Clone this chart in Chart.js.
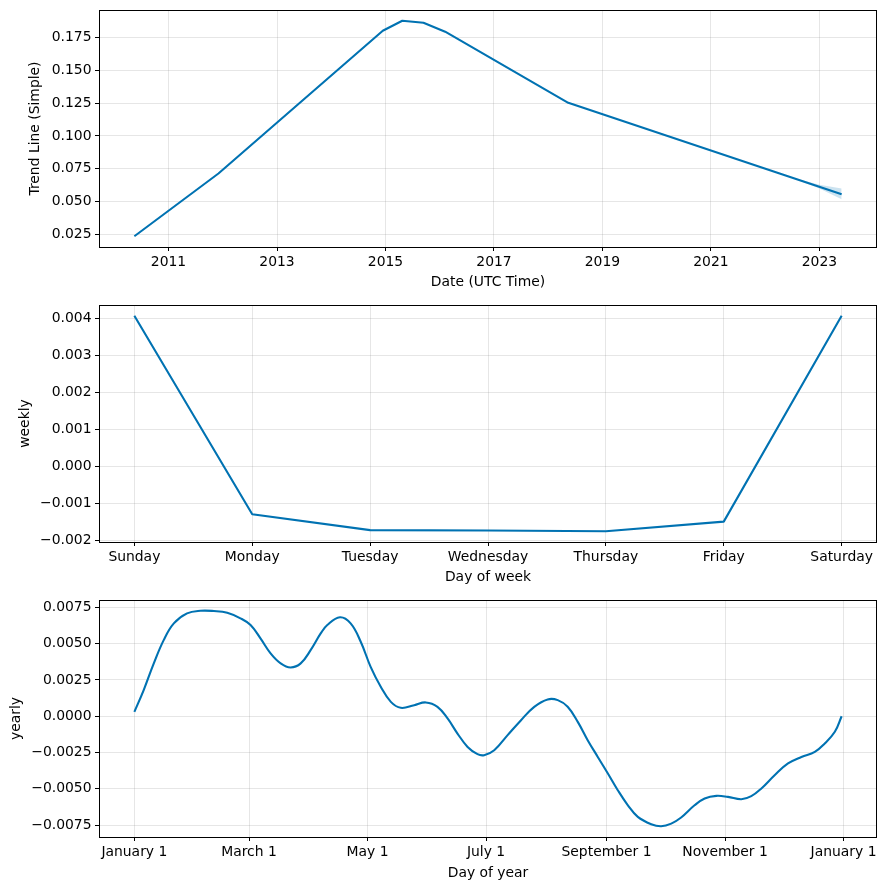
<!DOCTYPE html>
<html><head><meta charset="utf-8">
<script src="https://cdn.jsdelivr.net/npm/chart.js@4.4.1/dist/chart.umd.min.js"></script>
<style>
html,body{margin:0;padding:0;background:#fff;}
#wrap{position:relative;width:886px;height:890px;background:#fff;}
canvas{position:absolute;left:0;}
</style></head><body>
<div id="wrap">
<canvas id="c1" width="886" height="295" style="top:0px"></canvas>
<canvas id="c2" width="886" height="295" style="top:295px"></canvas>
<canvas id="c3" width="886" height="300" style="top:590px"></canvas>
</div>
<script>
// ---------- Panel 1: trend ----------
const trendYears  = [2010.37, 2011.92, 2014.95, 2015.31, 2015.70, 2016.10, 2018.37, 2023.41];
const trendValues = [0.0237, 0.0714, 0.1800, 0.1876, 0.1861, 0.1793, 0.1252, 0.0557];
const bandYears   = [2022.50, 2023.00, 2023.41];
const bandLower   = [0.0680, 0.0600, 0.0518];
const bandUpper   = [0.0684, 0.0628, 0.0600];
const trendXTicks = [2011, 2013, 2015, 2017, 2019, 2021, 2023];
const trendYTicks = [0.025, 0.050, 0.075, 0.100, 0.125, 0.150, 0.175];

// ---------- Panel 2: weekly ----------
const weekDays     = ['Sunday', 'Monday', 'Tuesday', 'Wednesday', 'Thursday', 'Friday', 'Saturday'];
const weeklyValues = [0.00408, -0.00129, -0.00172, -0.00173, -0.00175, -0.00149, 0.00408];
const weeklyYTicks = [-0.002, -0.001, 0.000, 0.001, 0.002, 0.003, 0.004];

// ---------- Panel 3: yearly ----------
const yearDays = [0, 4.8, 10, 15.1, 20.3, 27.1, 34, 40.9, 47.8, 54.6, 59.8, 64.9, 70.1, 75.3, 80.4, 85.6,
  90.7, 95.9, 99.3, 105.8, 111.3, 116.5, 121.6, 126.8, 132, 137.1, 144, 150, 156, 161.2, 166.3, 171.5,
  176.6, 180, 185.2, 192.1, 199, 205.8, 212.7, 217.9, 223, 228.2, 233.3, 238.5, 243.7, 248.8, 254,
  259.1, 266, 271.1, 276.3, 281.4, 288.3, 293.5, 299.5, 305.5, 312.4, 317.5, 322.7, 329.5, 336.4,
  343.3, 350.2, 355.3, 360.5, 364];
const yearlyValues = [0.00030, 0.00180, 0.00364, 0.00524, 0.00639, 0.00708, 0.00726, 0.00724, 0.00712,
  0.00674, 0.00628, 0.00536, 0.00433, 0.00364, 0.00336, 0.00364, 0.00455, 0.00570, 0.00628, 0.00681,
  0.00639, 0.00513, 0.00340, 0.00203, 0.00099, 0.00058, 0.00076, 0.00095, 0.00065, -0.00015, -0.00119,
  -0.00211, -0.00261, -0.00268, -0.00234, -0.00130, -0.00027, 0.00065, 0.00116, 0.00111, 0.00065,
  -0.00039, -0.00165, -0.00280, -0.00394, -0.00509, -0.00613, -0.00693, -0.00743, -0.00757, -0.00739,
  -0.00697, -0.00613, -0.00566, -0.00548, -0.00555, -0.00571, -0.00550, -0.00497, -0.00406, -0.00325,
  -0.00280, -0.00245, -0.00187, -0.00107, 0.00000];
const yearTickDays   = [0, 59, 120, 181, 243, 304, 365];
const yearTickLabels = ['January 1', 'March 1', 'May 1', 'July 1', 'September 1', 'November 1', 'January 1'];
const yearlyYTicks   = [-0.0075, -0.0050, -0.0025, 0.0000, 0.0025, 0.0050, 0.0075];

// ---------- helpers ----------
const LINE = '#0072B2';
const FONT = {family: "'DejaVu Sans', sans-serif", size: 13.9};
const GRID = 'rgba(128,128,128,0.2)';

function padRange(vals) {          // matplotlib-style 5% margins
  const lo = Math.min(...vals), hi = Math.max(...vals), m = (hi - lo) * 0.05;
  return [lo - m, hi + m];
}
function fmt(dec) {
  return v => (v < 0 ? '\u2212' : '') + Math.abs(v).toFixed(dec);
}
const boxPlugin = {
  id: 'box',
  afterDraw(chart) {
    const a = chart.chartArea, ctx = chart.ctx;
    ctx.save();
    ctx.strokeStyle = '#000';
    ctx.lineWidth = 1;
    ctx.strokeRect(Math.round(a.left) + 0.5, Math.round(a.top) + 0.5,
                   Math.round(a.right - a.left) - 1, Math.round(a.bottom - a.top));
    ctx.restore();
  }
};
function noPad(s) { s.paddingTop = 0; s.paddingBottom = 0; s.paddingLeft = 0; s.paddingRight = 0; }

function makeChart(id, datasets, o) {
  return new Chart(document.getElementById(id), {
    type: 'line',
    data: {datasets},
    plugins: [boxPlugin],
    options: {
      responsive: false, animation: false, devicePixelRatio: 1,
      layout: {padding: {top: 10, right: 9, left: 0, bottom: 0}},
      plugins: {legend: {display: false}, tooltip: {enabled: false}},
      elements: {point: {radius: 0}},
      scales: {
        x: {
          type: 'linear', bounds: 'data', min: o.xRange[0], max: o.xRange[1],
          afterBuildTicks: s => { s.ticks = o.xTicks.map(v => ({value: v})); },
          afterFit: s => { s.height = o.xh; noPad(s); },
          ticks: {callback: o.xLabel, font: FONT, color: '#000', padding: 3.5, maxRotation: 0, autoSkip: false},
          grid: {color: GRID, lineWidth: 1, tickColor: '#000', tickLength: 4, tickWidth: 1},
          border: {display: false},
          title: {display: true, text: o.xTitle, font: FONT, color: '#000', padding: {top: 0, bottom: o.xtPad}}
        },
        y: {
          type: 'linear', bounds: 'data', min: o.yRange[0], max: o.yRange[1],
          afterBuildTicks: s => { s.ticks = o.yTicks.map(v => ({value: v})); },
          afterFit: s => { s.width = 99; noPad(s); },
          ticks: {callback: o.yLabel, font: FONT, color: '#000', padding: 3.5, autoSkip: false},
          grid: {color: GRID, lineWidth: 1, tickColor: '#000', tickLength: 4, tickWidth: 1},
          border: {display: false},
          title: {display: true, text: o.yTitle, font: FONT, color: '#000', padding: {top: o.ytPad, bottom: 0}}
        }
      }
    }
  });
}

// ---------- Panel 1 ----------
const toPts = (xs, ys) => xs.map((x, i) => ({x, y: ys[i]}));
makeChart('c1', [
  {data: toPts(trendYears, trendValues), borderColor: LINE, borderWidth: 2.1, fill: false, tension: 0, borderJoinStyle: 'round'},
  {data: toPts(bandYears, bandUpper), borderWidth: 0, borderColor: 'rgba(0,0,0,0)', backgroundColor: 'rgba(0,114,178,0.2)', fill: '+1'},
  {data: toPts(bandYears, bandLower), borderWidth: 0, borderColor: 'rgba(0,0,0,0)', fill: false}
], {
  xRange: padRange(trendYears), yRange: padRange(trendValues),
  xTicks: trendXTicks, yTicks: trendYTicks,
  xLabel: v => String(v), yLabel: fmt(3),
  xTitle: 'Date (UTC Time)', yTitle: 'Trend Line (Simple)', xh: 48, xtPad: 4.2, ytPad: 26.7
});

// ---------- Panel 2 ----------
const weekIdx = weekDays.map((d, i) => i);
makeChart('c2', [
  {data: toPts(weekIdx, weeklyValues), borderColor: LINE, borderWidth: 2.1, fill: false, tension: 0, borderJoinStyle: 'round'}
], {
  xRange: padRange(weekIdx), yRange: padRange(weeklyValues),
  xTicks: weekIdx, yTicks: weeklyYTicks,
  xLabel: v => weekDays[v], yLabel: fmt(3),
  xTitle: 'Day of week', yTitle: 'weekly', xh: 48, xtPad: 4.2, ytPad: 17.5
});

// ---------- Panel 3 ----------
makeChart('c3', [
  {data: toPts(yearDays, yearlyValues), borderColor: LINE, borderWidth: 2.1, fill: false, tension: 0.4, borderJoinStyle: 'round'}
], {
  xRange: padRange(yearDays), yRange: padRange(yearlyValues),
  xTicks: yearTickDays, yTicks: yearlyYTicks,
  xLabel: (v, i) => yearTickLabels[i], yLabel: fmt(4),
  xTitle: 'Day of year', yTitle: 'yearly', xh: 53, xtPad: 8.7, ytPad: 8
});
</script>
</body></html>
